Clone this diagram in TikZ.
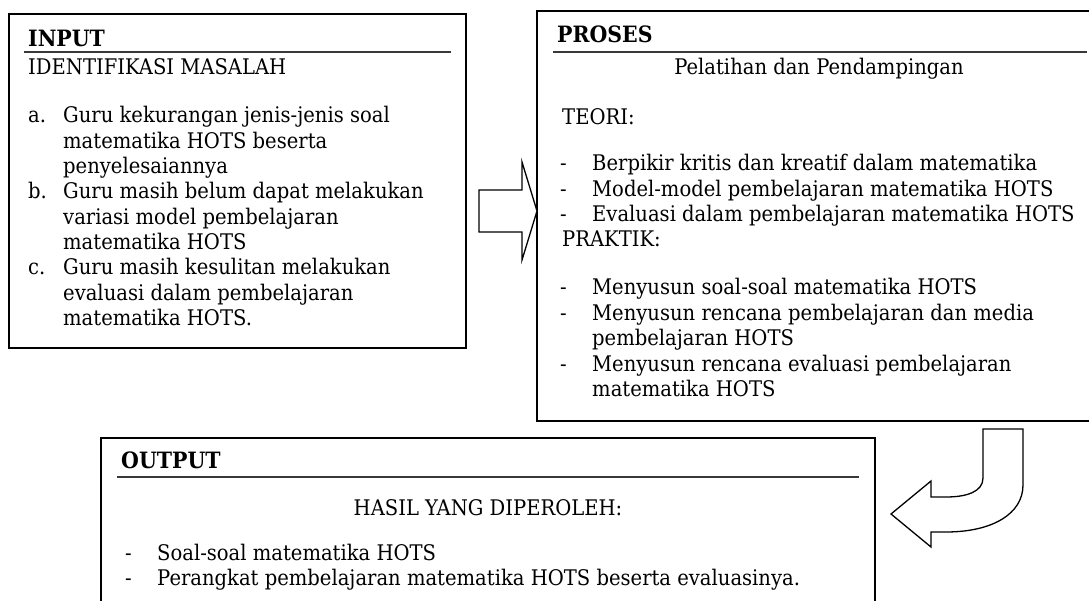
\documentclass[tikz,border=0pt]{standalone}
\usepackage{fontspec}
\setmainfont[FakeStretch=0.91]{DejaVu Serif}
\tikzset{
  box/.style={draw=black, line width=1.3pt},
  rule/.style={draw=black!78, line width=2pt},
  blockarrow/.style={draw=black, line width=1.3pt, fill=white, line join=miter},
  txt/.style={anchor=base west, inner sep=0pt, font=\fontsize{21.5}{25.3}\selectfont},
  ctxt/.style={anchor=base, inner sep=0pt, font=\fontsize{21.5}{25.3}\selectfont},
  head/.style={anchor=base west, inner sep=0pt, font=\fontsize{22.5}{25.3}\selectfont\bfseries},
}
\begin{document}
\begin{tikzpicture}[x=1pt, y=-1pt]
\useasboundingbox (0,0) rectangle (1089,601);
\clip (0,0) rectangle (1089,601);

% ---------- INPUT ----------
\draw[box] (9,14) rectangle (466,348);
\coordinate (inrl) at (24,52.5);
\coordinate (inrr) at (451,52.5);
\draw[rule] (inrl) -- (inrr);
\node[head] (inhead) at (28,47) {INPUT};
\node[txt] (insub) at (28,75) {IDENTIFIKASI MASALAH};
\node[txt] (la) at (28,123) {a.};
\node[txt] (lb) at (28,198.9) {b.};
\node[txt] (lc) at (28,274.8) {c.};
\foreach \t [count=\i] in {
  {Guru kekurangan jenis-jenis soal},
  {matematika HOTS beserta},
  {penyelesaiannya},
  {Guru masih belum dapat melakukan},
  {variasi model pembelajaran},
  {matematika HOTS},
  {Guru masih kesulitan melakukan},
  {evaluasi dalam pembelajaran},
  {matematika HOTS.}}
  \node[txt] (in\i) at (63,{123+25.3*(\i-1)}) {\t};

% ---------- PROSES ----------
\draw[box] (537,11) rectangle (1102,421);
\coordinate (prl) at (553,52.5);
\coordinate (prr) at (1087,52.5);
\draw[rule] (prl) -- (prr);
\node[head] (prhead) at (557,43) {PROSES};
\node[ctxt] (prsub) at (819,75) {Pelatihan dan Pendampingan};
\node[txt] (teori) at (562,125) {TEORI:};
\node[txt] (d1) at (560,171) {-};
\node[txt] (d2) at (560,196.3) {-};
\node[txt] (d3) at (560,221.6) {-};
\node[txt] (t1) at (592,171) {Berpikir kritis dan kreatif dalam matematika};
\node[txt] (t2) at (592,196.3) {Model-model pembelajaran matematika HOTS};
\node[txt] (t3) at (592,221.6) {Evaluasi dalam pembelajaran matematika HOTS};
\node[txt] (praktik) at (562,247) {PRAKTIK:};
\node[txt] (d4) at (560,295) {-};
\node[txt] (d5) at (560,320.3) {-};
\node[txt] (d6) at (560,371) {-};
\node[txt] (p1) at (592,295) {Menyusun soal-soal matematika HOTS};
\node[txt] (p2) at (592,320.3) {Menyusun rencana pembelajaran dan media};
\node[txt] (p2b) at (592,345.6) {pembelajaran HOTS};
\node[txt] (p3) at (592,371) {Menyusun rencana evaluasi pembelajaran};
\node[txt] (p3b) at (592,396.3) {matematika HOTS};

% ---------- OUTPUT ----------
\draw[box] (101,438) rectangle (875,640);
\coordinate (orl) at (117,477);
\coordinate (orr) at (859,477);
\draw[rule] (orl) -- (orr);
\node[head] (outhead) at (121,468) {OUTPUT};
\node[ctxt] (outsub) at (488,515) {HASIL YANG DIPEROLEH:};
\node[txt] (od1) at (125,560) {-};
\node[txt] (od2) at (125,585.3) {-};
\node[txt] (o1) at (157,560) {Soal-soal matematika HOTS};
\node[txt] (o2) at (157,585.3) {Perangkat pembelajaran matematika HOTS beserta evaluasinya.};

% ---------- block arrows ----------
\draw[blockarrow] (479,190) -- (522,190) -- (522,162) -- (537,211)
  -- (522,260) -- (522,232) -- (479,232) -- cycle;

\draw[blockarrow] (983,429) -- (983,478)
  .. controls (983,492) and (966,497) .. (946,497) -- (931,497)
  -- (931,481) -- (891,514) -- (931,547) -- (931,532) -- (946,532)
  .. controls (992,532) and (1023,514) .. (1023,485)
  -- (1023,429) -- cycle;
\end{tikzpicture}
\end{document}
